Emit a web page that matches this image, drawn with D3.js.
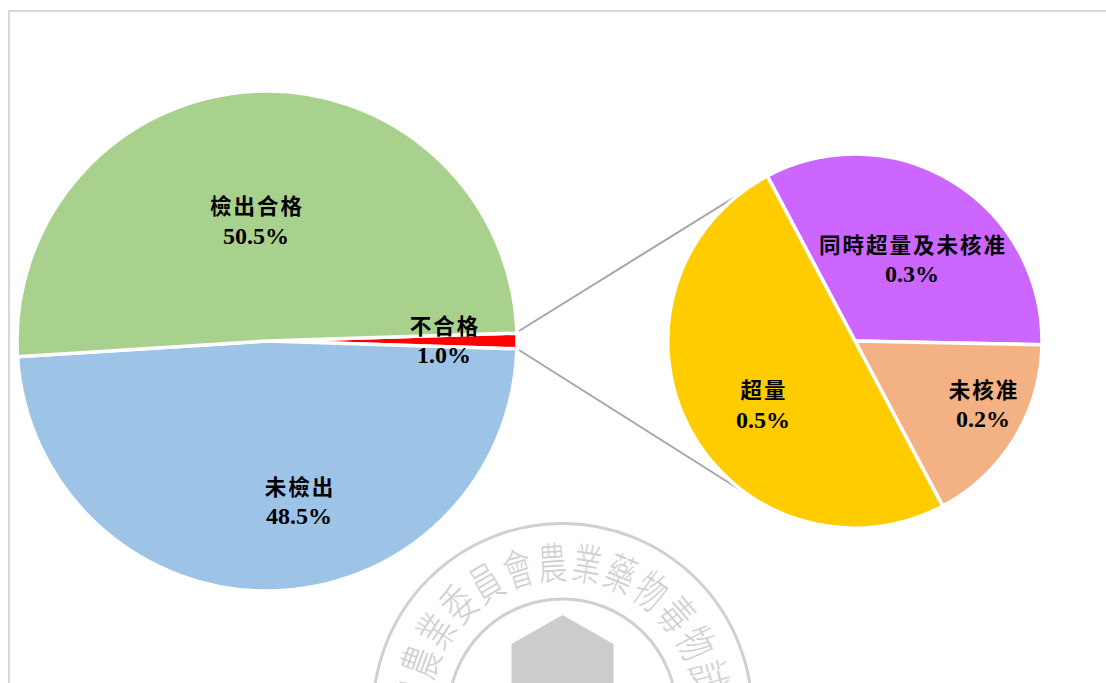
<!DOCTYPE html>
<html><head><meta charset="utf-8">
<script src="https://cdn.jsdelivr.net/npm/d3@7/dist/d3.min.js"></script>
<style>html,body{margin:0;padding:0;background:#fff;overflow:hidden}svg{display:block}
.lab{font-family:"Liberation Serif",serif;font-weight:700;font-size:24px;fill:#000;text-anchor:middle}
.cjk{font-family:"Noto Sans CJK TC",sans-serif;font-weight:700;font-size:21.5px;letter-spacing:2px}
</style></head><body>
<script>
const mainCategories=["不合格","未檢出","檢出合格"];
const mainValues=[1.0,48.5,50.5];
const mainColors=["#ff0000","#9dc3e6","#a9d18e"];
const subCategories=["同時超量及未核准","未核准","超量"];
const subValues=[0.331,0.169,0.5];
const subColors=["#cc66ff","#f4b183","#ffcc00"];
const sealText="院農業委員會農業藥物毒物試驗".split("");

const W=1106,H=683;
const svg=d3.select("body").append("svg").attr("width",W).attr("height",H);
const rad=d=>d*Math.PI/180;

// frame
svg.append("path").attr("d",`M9 ${H}V11H${W}`).attr("fill","none").attr("stroke","#d9d9d9").attr("stroke-width",2);

// watermark seal
const seal=svg.append("g").attr("transform","translate(562.5,713)");
seal.selectAll("circle").data([189.5,114]).join("circle").attr("r",d=>d)
  .attr("fill","none").attr("stroke","#d0d0d0").attr("stroke-width",3);
seal.append("path").attr("d","M-51 100V-69L0 -98L51 -69V100Z").attr("fill","#cccccc");
const sealAngle=d3.scalePoint().domain(d3.range(sealText.length)).range([-83.5,89]);
seal.selectAll("text").data(sealText).join("text")
  .attr("transform",(d,i)=>`rotate(${sealAngle(i)}) translate(0,-150) scale(0.68,1.05)`)
  .attr("text-anchor","middle").attr("dy","0.36em")
  .style("font-family",'"Noto Sans CJK TC",sans-serif').style("font-weight",300)
  .style("font-size","42px").attr("fill","#d0d0d0").text(d=>d);

// connector lines
const conn=[[[519,331],[767,177]],[[519,350],[742,491]]];
svg.selectAll("line.c").data(conn).join("line").attr("class","c")
  .attr("x1",d=>d[0][0]).attr("y1",d=>d[0][1]).attr("x2",d=>d[1][0]).attr("y2",d=>d[1][1])
  .attr("stroke","#a6a6a6").attr("stroke-width",2);

function drawPie(cx,cy,r,values,colors,start){
  const pie=d3.pie().sort(null).startAngle(rad(start)).endAngle(rad(start+360))(values);
  const arc=d3.arc().innerRadius(0).outerRadius(r);
  svg.append("g").attr("transform",`translate(${cx},${cy})`)
    .selectAll("path").data(pie).join("path")
    .attr("d",arc).attr("fill",(d,i)=>colors[i])
    .attr("stroke","#fff").attr("stroke-width",3.5).attr("stroke-linejoin","miter");
}
drawPie(267,341,250,mainValues,mainColors,88.2);
drawPie(855,341,187,subValues,subColors,-28);

function label(name,value,x,y1,y2){
  svg.append("text").attr("class","lab cjk").attr("x",x+1).attr("y",y1).text(name);
  svg.append("text").attr("class","lab").attr("x",x).attr("y",y2).text(d3.format(".1f")(value)+"%");
}
label(mainCategories[2],mainValues[2],256,214,244);
label(mainCategories[1],mainValues[1],299,495,524);
label(mainCategories[0],mainValues[0],444,334,363);
label(subCategories[0],subValues[0],912,253,282);
label(subCategories[1],subValues[1],983,398,427);
label(subCategories[2],subValues[2],763,398,428);
</script></body></html>
